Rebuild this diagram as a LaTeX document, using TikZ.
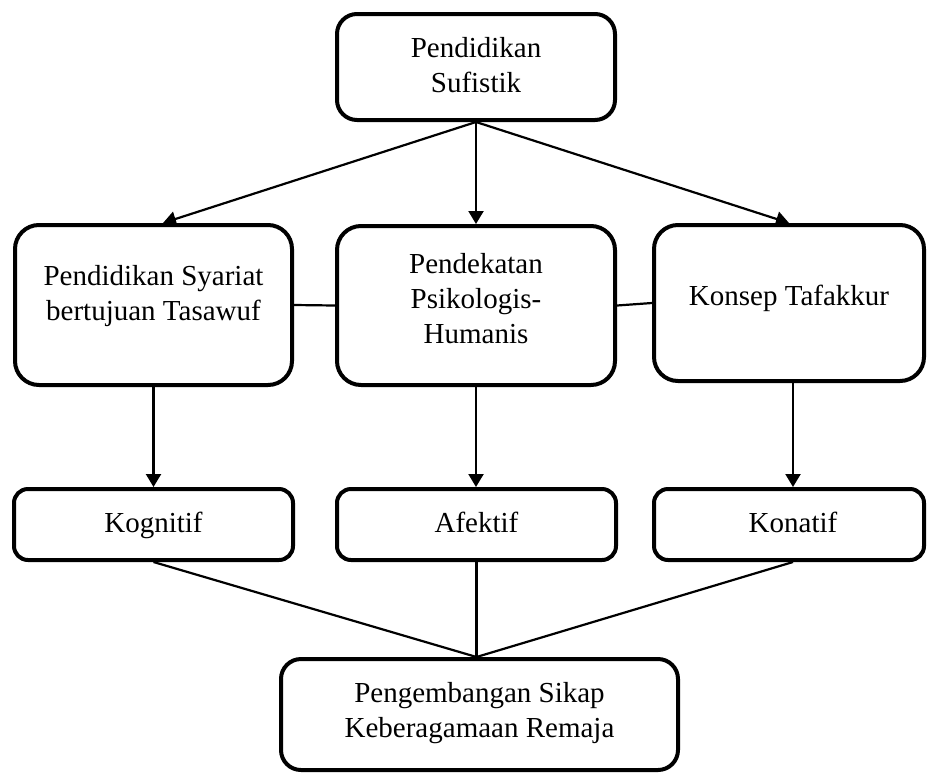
\documentclass[tikz,border=0pt]{standalone}
\usepackage{fontspec}
\setmainfont{Liberation Serif}
\usetikzlibrary{arrows.meta,calc}
\begin{document}
\begin{tikzpicture}[x=1pt,y=-1pt,
  box/.style={draw, line width=4pt, rounded corners=#1, inner sep=0pt},
  box/.default=20pt,
  txt/.style={align=center, font=\fontsize{29}{35}\selectfont, inner sep=0pt},
  one/.style={txt, text height=20pt, text depth=7pt},
  arr/.style={line width=2.2pt, -{Triangle[length=13pt,width=15pt]}},
  ln/.style={line width=2.2pt}]
\useasboundingbox (0,0) rectangle (928,774);
% boxes
\node[box=20pt, minimum width=278pt, minimum height=106pt] (top) at (476,67) {};
\node[box=24pt, minimum width=277pt, minimum height=160pt] (L) at (153.5,305) {};
\node[box=24pt, minimum width=278pt, minimum height=159pt] (M) at (476,305.5) {};
\node[box=24pt, minimum width=270pt, minimum height=156pt] (R) at (789,303) {};
\node[box=14pt, minimum width=279pt, minimum height=71pt] (K) at (153.5,524.5) {};
\node[box=14pt, minimum width=279pt, minimum height=71pt] (A) at (476.5,524.5) {};
\node[box=14pt, minimum width=270pt, minimum height=71pt] (N) at (789,524.5) {};
\node[box=20pt, minimum width=397pt, minimum height=111pt] (B) at (479.5,714.5) {};
% texts
\node[txt] (topt) at (476,65) {Pendidikan\\Sufistik};
\node[txt] (Lt) at (153.5,296.5) {Pendidikan Syariat\\bertujuan Tasawuf};
\node[txt] (Mt) at (476,299) {Pendekatan\\Psikologis-\\Humanis};
\node[one] (Rt) at (789,299) {Konsep Tafakkur};
\node[one] (Kt) at (153.5,526) {Kognitif};
\node[one] (At) at (476.5,526) {Afektif};
\node[one] (Nt) at (793,526) {Konatif};
\node[txt] (Bt) at (479.5,713.5) {Pengembangan Sikap\\Keberagamaan Remaja};
% arrows from top
\draw[arr] (top.south) -- ($(L.north)+(9.5,0)$);
\draw[arr] (top.south) -- (M.north);
\draw[arr] (top.south) -- (R.north);
% horizontal links
\draw[ln] (L.east) -- (M.west);
\draw[ln] (M.east) -- (R.west);
% vertical arrows
\draw[arr] (L.south) -- (K.north);
\draw[arr] (M.south) -- (M.south |- A.north);
\draw[arr] ($(R.south)+(4,0)$) -- ($(N.north)+(4,0)$);
% converging lines
\coordinate (mp) at (A.south |- B.north);
\draw[ln] (K.south) -- (mp);
\draw[ln] (A.south) -- (mp);
\draw[ln] ($(N.south)+(4,0)$) -- (mp);
\end{tikzpicture}
\end{document}
